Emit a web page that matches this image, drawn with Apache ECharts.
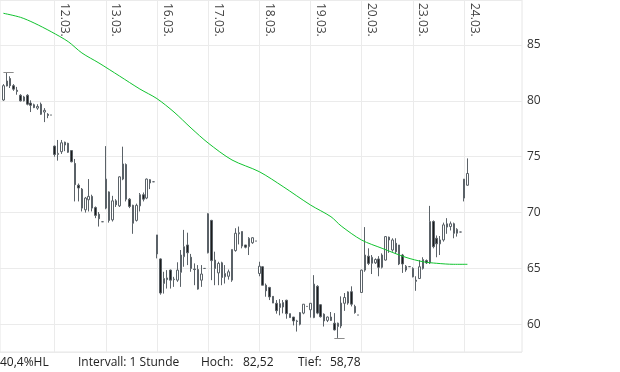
<!DOCTYPE html>
<html><head><meta charset="utf-8">
<script src="https://cdn.jsdelivr.net/npm/echarts@6/dist/echarts.min.js"></script>
<style>html,body{margin:0;padding:0;background:#fff}#c{width:620px;height:372px}</style>
</head><body><div id="c"></div>
<script>
// ---- data ----
const days = ['11.03.','12.03.','13.03.','16.03.','17.03.','18.03.','19.03.','20.03.','23.03.','24.03.'];
const hours = [8,9,10,11,12,13,14,15,16,17,18,19,20,21,22];
// hourly candles [open, close, low, high], first one in slot 1 (11.03. 08:00)
const day1 = [[80.08,81.36,80.0,81.5],[81.33,81.78,81.3,82.52],[82.0,81.36,81.15,82.2],[81.36,81.05,80.9,81.5],[80.95,80.85,80.55,81.25],[80.5,80.0,79.95,80.6],[80.0,80.35,79.95,80.45],[80.5,79.7,79.6,80.6],[79.8,79.6,79.0,80.05],[79.65,79.4,79.35,79.75],[79.35,79.5,79.2,79.7],[79.7,78.8,78.75,79.85],[79.0,79.15,78.1,79.35],[78.8,78.7,78.45,78.9],[78.73,78.73,78.73,78.73]];
const day2 = [[75.95,75.2,75.0,76.0],[75.2,75.3,74.65,76.5],[75.45,76.25,75.25,76.5],[76.3,76.05,75.5,76.35],[76.2,75.4,75.35,76.25],[75.55,74.55,74.5,75.6],[74.4,72.5,71.0,74.8],[72.45,72.2,71.0,72.6],[72.1,70.4,70.1,72.2],[70.25,71.3,70.0,71.4],[71.15,71.45,70.1,73.0],[71.45,70.4,70.1,71.6],[70.45,69.75,69.5,70.55],[69.85,69.45,68.75,70.05],[69.18,69.18,69.18,69.18]];
const day3 = [[70.4,73.0,70.3,75.95],[71.85,69.3,69.1,71.9],[69.35,71.05,69.2,71.5],[71.05,70.7,70.5,71.2],[70.6,73.2,70.5,73.25],[73.0,74.35,72.9,75.9],[74.3,71.2,71.0,74.4],[71.2,70.55,70.4,71.3],[70.65,69.05,68.1,70.7],[69.3,70.65,69.2,70.8],[70.6,71.6,70.1,71.75],[71.6,71.2,71.0,71.8],[71.3,73.0,71.2,73.05],[72.65,72.95,72.1,73.0],[72.76,72.76,72.76,72.76]];
const day4 = [[68.0,66.3,65.9,68.0],[65.85,62.8,62.65,65.9],[63.65,64.1,62.75,64.7],[64.15,64.0,63.2,64.85],[64.85,63.95,63.2,64.9],[64.0,64.05,63.35,64.25],[63.95,64.85,63.8,65.55],[64.65,66.2,63.35,66.65],[66.05,66.95,65.15,68.45],[67.1,66.4,65.3,68.2],[66.0,65.0,64.7,66.3],[64.95,64.9,63.5,65.45],[64.9,63.15,63.1,65.3],[63.95,64.5,63.35,65.3],[65.0,65.0,65.0,65.0]];
const day5 = [[66.4,69.9,66.35,69.95],[69.3,65.7,63.95,69.35],[65.75,65.0,63.5,66.5],[64.6,65.45,63.5,65.6],[65.5,64.2,63.5,65.6],[64.25,64.55,63.65,65.3],[64.3,64.7,64.0,64.9],[63.95,66.7,63.8,66.7],[66.6,68.15,66.5,68.6],[68.1,68.2,67.15,68.75],[68.3,67.0,66.8,68.3],[67.1,66.9,66.8,67.1],[66.95,67.7,66.2,67.8],[67.3,67.75,67.2,67.8],[67.45,67.45,67.45,67.45]];
const day6 = [[64.55,65.2,64.3,65.6],[65.15,63.5,63.5,65.2],[63.5,63.0,62.47,63.65],[63.3,62.45,62.17,63.35],[62.5,61.9,61.9,62.5],[61.88,61.22,60.95,62.17],[61.5,61.85,60.8,62.25],[61.55,61.95,60.98,62.17],[62.15,60.95,60.5,62.2],[60.95,60.6,60.6,60.95],[60.65,60.3,59.9,60.65],[60.3,60.25,59.35,60.4],[60.0,61.05,59.9,61.1],[61.0,61.8,60.9,61.8],[61.6,61.6,61.6,61.6]];
const day7 = [[61.3,61.88,60.6,61.9],[60.6,63.6,60.55,64.4],[63.4,61.0,60.9,63.5],[61.75,60.68,60.6,61.8],[60.9,60.3,59.8,60.98],[60.35,60.65,60.2,60.7],[60.65,60.35,60.3,61.1],[60.1,59.5,59.45,61.0],[59.8,60.1,58.78,60.15],[59.85,61.9,59.65,62.5],[61.88,62.4,61.2,62.8],[61.9,62.9,61.75,62.95],[62.92,61.8,61.6,63.4],[61.6,61.05,60.95,61.75],[60.83,60.83,60.83,60.83]];
const day8 = [[62.85,64.85,62.8,64.9],[64.85,66.2,64.7,68.7],[66.1,65.45,65.3,66.8],[65.46,66.0,64.5,66.2],[65.5,65.8,65.4,65.9],[65.85,65.1,64.3,66.1],[65.1,66.2,65.0,66.35],[65.75,67.85,65.7,67.9],[67.8,67.55,66.4,67.85],[66.65,67.55,66.5,67.7],[67.25,66.5,66.3,67.7],[67.1,65.4,65.3,67.1],[66.2,65.4,64.6,66.3],[64.86,65.2,64.7,65.3],[65.16,65.16,65.16,65.16]];
const day9 = [[65.0,64.25,64.2,65.1],[63.95,63.85,63.0,64.3],[64.1,65.15,64.05,65.75],[65.0,65.8,64.9,66.0],[65.7,65.5,65.4,65.8],[65.5,69.2,65.4,70.6],[69.2,66.95,66.8,69.3],[67.7,67.2,66.0,67.95],[67.2,67.55,66.2,67.9],[67.55,68.9,67.4,69.1],[68.7,69.0,68.1,69.5],[68.75,69.0,68.4,69.2],[69.0,68.15,67.7,69.1],[68.15,68.5,67.85,68.6],[68.26,68.26,68.26,68.26]];
const day10 = [[71.3,73.0,71.0,73.0],[72.45,73.5,72.4,74.85]];
// moving average, [slot, value]
const maPoints = [[1,87.84],[6,87.48],[10,86.97],[15,86.19],[20,85.3],[24,84.29],[29,83.39],[35,82.23],[41,81.06],[46,80.2],[51,79.0],[56,77.57],[61,76.23],[68,74.71],[76,73.66],[83,72.32],[91,70.68],[97,69.63],[100,68.8],[106,67.54],[112,66.8],[119,65.99],[124,65.6],[128,65.46],[133,65.37],[137,65.37]];
const hoch = 82.52, tief = 58.78;
const footer = ['40,4%HL','Intervall: 1 Stunde','Hoch:','82,52','Tief:','58,78'];

// ---- build ----
const categories = ['start'];
days.forEach(d => hours.forEach(h => categories.push(d + ' ' + h + ':00')));
['25.03. 8:00','25.03. 9:00','25.03. 10:00'].forEach(c => categories.push(c));
const ohlc = [].concat(day1,day2,day3,day4,day5,day6,day7,day8,day9,day10);
const candleData = ohlc.map((d, i) => [i + 1, d[0], d[1], d[2], d[3]]);
const isDayStart = (i) => i >= 16 && i <= 136 && (i - 1) % 15 === 0;
const FONT = 'Open Sans';
const footerX = [0, 78, 201, 243, 298, 330];

const chart = echarts.init(document.getElementById('c'));
chart.setOption({
  animation: false,
  backgroundColor: '#fff',
  grid: { left: 0, right: 98, top: 0, bottom: 20, show: true, borderColor: '#e6e6e6', borderWidth: 1 },
  xAxis: {
    type: 'category', data: categories, boundaryGap: false, position: 'top',
    axisLine: { show: false }, axisTick: { show: false },
    splitLine: { show: true, interval: isDayStart, lineStyle: { color: '#ebebeb', width: 1 } },
    axisLabel: {
      inside: true, rotate: 90, interval: isDayStart, margin: 3,
      formatter: v => '{d|' + v.split(' ')[0] + '}',
      rich: { d: { padding: [0, 0, 20, 0], color: '#444', fontSize: 12, fontFamily: FONT } },
      color: '#444', fontSize: 12, fontFamily: FONT
    }
  },
  yAxis: {
    type: 'value', position: 'right', min: 57.52, max: 89.03, splitNumber: 6, scale: true,
    axisLine: { show: false }, axisTick: { show: false },
    splitLine: { show: true, lineStyle: { color: '#ebebeb', width: 1 } },
    axisLabel: { showMinLabel: false, showMaxLabel: false, margin: 5, color: '#333', fontSize: 12, fontFamily: FONT }
  },
  series: [
    {
      type: 'candlestick', data: candleData, encode: { x: 0, y: [1, 2, 3, 4] }, barWidth: 2,
      itemStyle: { color: '#ffffff', color0: '#1c1c1c', borderColor: '#5b6268', borderColor0: '#5b6268', borderWidth: 1 },
      emphasis: { disabled: true },
      markLine: {
        symbol: 'none', silent: true, label: { show: false },
        lineStyle: { color: '#8c8c8c', type: 'solid', width: 1 },
        data: [
          [{ coord: [1, hoch] }, { coord: [4, hoch] }],
          [{ coord: [98, tief] }, { coord: [101, tief] }]
        ]
      }
    },
    {
      type: 'line', data: maPoints, symbol: 'none', smooth: 0.3,
      lineStyle: { color: '#11c32f', width: 1 }, emphasis: { disabled: true }
    }
  ],
  graphic: footer.map((t, i) => ({
    type: 'text', x: footerX[i], y: 363,
    style: { text: t, fill: '#222', fontSize: 12, fontFamily: FONT, verticalAlign: 'middle', align: 'left' }
  }))
});
</script></body></html>
